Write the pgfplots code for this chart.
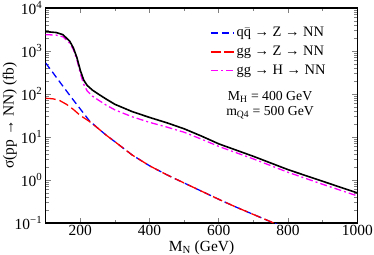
\documentclass[border=0pt]{standalone}
\usepackage{fontspec}
\setmainfont{Liberation Serif}
\usepackage{pgfplots}
\pgfplotsset{compat=1.18}
\definecolor{cblue}{RGB}{0,0,255}
\definecolor{cred}{RGB}{255,0,0}
\definecolor{cmag}{RGB}{255,0,255}
\begin{document}
\begin{tikzpicture}
\begin{axis}[
  scale only axis, width=311.6bp, height=215bp,
  ymode=log, xmin=100, xmax=1000, ymin=0.1, ymax=10000,
  xtick={200,400,600,800,1000}, xticklabels={200,400,600,800,1000},
  minor xtick={100,300,500,700,900},
  ytick={0.1,1,10,100,1000,10000},
  yticklabels={10\textsuperscript{−1},10\textsuperscript{0},10\textsuperscript{1},10\textsuperscript{2},10\textsuperscript{3},10\textsuperscript{4}},
  tick align=inside, tick pos=both,
  major tick length=5bp, minor tick length=3bp,
  axis line style={line width=1.5bp},
  major tick style={line width=0.9bp}, minor tick style={line width=0.7bp},
  tick label style={font=\fontsize{15.5}{17}\selectfont},
  xticklabel style={yshift=1bp},
  xlabel={M\textsubscript{N} (GeV)},
  ylabel={σ(pp → NN) (fb)},
  label style={font=\fontsize{15.5}{17}\selectfont},
  xlabel style={at={(axis description cs:0.5,-0.113)},anchor=center},
  ylabel style={at={(axis description cs:-0.115,0.5)},anchor=center},
  legend style={draw=none, fill=none, at={(axis description cs:0.915,0.929)}, anchor=north east,
    font=\fontsize{14.5}{16}\selectfont, row sep=4bp},
  legend cell align=left,
  legend image code/.code={\draw[#1] (0bp,0bp) -- (23bp,0bp);},
  clip=true,
]
\addlegendimage{color=cblue, line width=1.4bp, dash pattern=on 7bp off 4bp}
\addlegendentry{q$\bar{\mbox{q}}$ → Z → NN}
\addlegendimage{color=cred, line width=1.3bp, dash pattern=on 10bp off 3bp}
\addlegendentry{gg → Z → NN}
\addlegendimage{color=cmag, line width=1.3bp, dash pattern=on 7bp off 3bp on 2bp off 3bp}
\addlegendentry{gg → H → NN}
\addplot[color=cblue, line width=1.3bp, dash pattern=on 7bp off 4bp, forget plot] coordinates {
(100,525) (125,282) (150,151) (175,81.3) (200,44.7) (225,24.5) (250,16.2) (275,11.0)
(300,7.76) (350,3.80) (400,2.14) (450,1.32) (500,0.851) (550,0.550) (600,0.355)
(650,0.234) (700,0.158) (750,0.107) (770,0.0912)};
\addplot[color=cred, line width=1.3bp, dash pattern=on 10bp off 4bp, forget plot] coordinates {
(100,79.4) (120,77.6) (140,70.8) (160,57.5) (180,43.7) (200,31.6) (225,23.4) (250,16.2) (275,11.0)
(300,7.76) (350,3.80) (400,2.14) (450,1.32) (500,0.851) (550,0.550) (600,0.355)
(650,0.234) (700,0.158) (750,0.107) (770,0.0912)};
\addplot[color=cmag, line width=1.3bp, dash pattern=on 7bp off 3bp on 2bp off 3bp, forget plot] coordinates {
(100,2399) (130,2344) (150,2138) (170,1514) (180,1072) (190,631) (200,302) (210,166)
(220,117) (235,89.1) (250,74.1) (275,55.0) (300,42.7) (350,29.5) (400,21.9) (450,17.0)
(500,12.9) (550,8.91) (600,6.03) (700,3.09) (800,1.51) (900,0.794) (1000,0.427)};
\addplot[black, line width=1.6bp, forget plot] coordinates {
(100,2818) (130,2692) (150,2399) (170,1660) (180,1175) (190,708) (200,355) (210,209)
(220,158) (235,123) (250,102) (275,75.9) (300,57.5) (350,38.9) (400,28.5) (450,21.4)
(500,15.5) (550,10.5) (600,6.92) (700,3.55) (800,1.74) (900,0.933) (1000,0.501)};
\node[font=\fontsize{13.8}{15}\selectfont, align=center] at (axis description cs:0.72,0.547)
  {M\textsubscript{H} = 400 GeV\\m\textsubscript{Q4} = 500 GeV};
\end{axis}
\pgfresetboundingbox
\path[use as bounding box] (-45.7bp,-32bp) rectangle (328.3bp,223bp);
\end{tikzpicture}
\end{document}
